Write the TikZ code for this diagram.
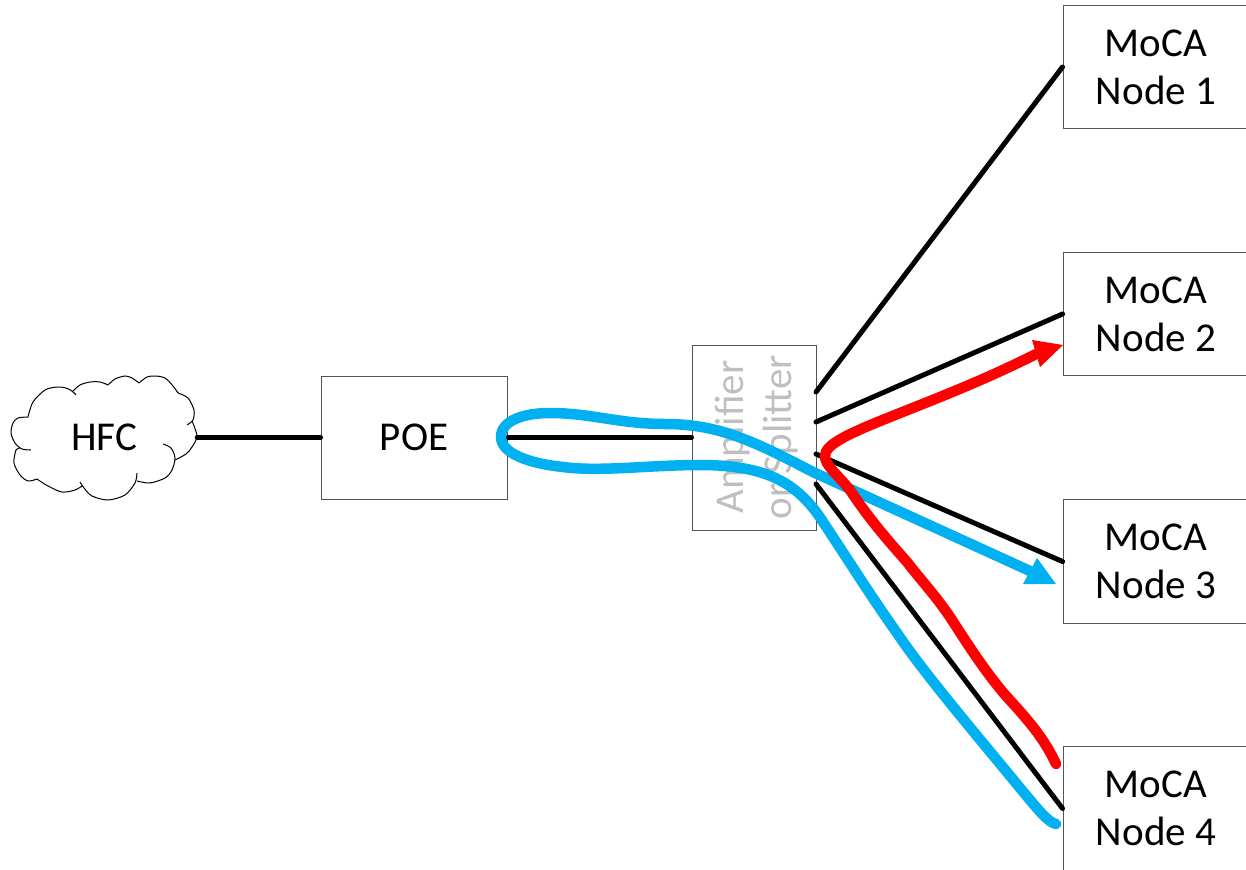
\documentclass[tikz,border=0pt]{standalone}
\usepackage{fontspec}
\setmainfont{Carlito}
\usetikzlibrary{arrows.meta}
\definecolor{flowblue}{HTML}{00B0F0}
\definecolor{flowred}{HTML}{FF0000}
\definecolor{boxedge}{HTML}{555555}
\definecolor{ghost}{HTML}{BFBFBF}
\tikzset{
  box/.style={draw=boxedge,line width=1pt,fill=white,inner sep=0pt,align=center,font=\fontsize{41}{48}\selectfont},
  mocabox/.style={box,minimum width=186pt,minimum height=123.5pt},
  wire/.style={draw=black,line width=5pt,line cap=round},
  flow/.style={line width=10.5pt,line cap=round,line join=round},
  lobe/.style={draw=black,line width=1pt},
}
\begin{document}
\begin{tikzpicture}[x=1pt,y=-1pt]
\useasboundingbox (0,0) rectangle (1246,869);
\clip (0,0) rectangle (1246,869);
% cloud
\fill[white] plot[smooth] coordinates {(28,417)(57,387)(108,384)(155,376)(178,393)(197,437)(175,460)(137,482)(108,500)(80,482)(37,480)(14,453)(11,433)};
\draw[lobe] plot[smooth] coordinates {(28,417)(33,402)(45,390)(57,387)(66,388)(72,391)(76,395)};
\draw[lobe] plot[smooth] coordinates {(72,392)(80,385)(90,382)(100,382)(108,385)};
\draw[lobe] plot[smooth] coordinates {(108,385)(115,379)(125,376)(132,378)(139,383)};
\draw[lobe] plot[smooth] coordinates {(139,383)(147,377)(155,376)(165,378)(173,386)(178,393)};
\draw[lobe] plot[smooth] coordinates {(178,393)(188,398)(194,410)(193,420)(187,425)};
\draw[lobe] plot[smooth] coordinates {(192,421)(197,436)(192,447)(186,454)(175,460)};
\draw[lobe] plot[smooth] coordinates {(163,444)(171,448)(175,458)(172,470)(165,478)(150,483)(137,481)};
\draw[lobe] plot[smooth] coordinates {(137,473)(135,483)(125,495)(108,500)(92,496)(84,488)(80,482)};
\draw[lobe] plot[smooth] coordinates {(82,486)(75,490)(62,492)(48,486)(37,479)};
\draw[lobe] plot[smooth] coordinates {(37,479)(28,481)(20,475)(14,463)(16,450)(20,448)};
\draw[lobe] plot[smooth] coordinates {(31,450)(22,449)(15,443)(11,433)(13,423)(18,418)(28,417)};
\node[inner sep=0pt,minimum width=186pt,minimum height=50pt,font=\fontsize{41}{48}\selectfont] (hfc) at (104,437.5) {HFC};
% boxes
\node[box,minimum width=186pt,minimum height=123pt] (poe) at (414,437.5) {POE};
\node[draw=boxedge,line width=1pt,minimum width=124pt,minimum height=185pt] (amp) at (754,437.5) {};
\node[rotate=90,text=ghost,align=center,inner sep=0pt,font=\fontsize{41}{48}\selectfont] (amplabel) at (757,437) {Amplifier\\or Splitter};
\node[mocabox] (n1) at (1156,67) {MoCA\\Node 1};
\node[mocabox] (n2) at (1156,314) {MoCA\\Node 2};
\node[mocabox] (n3) at (1156,561.5) {MoCA\\Node 3};
\node[mocabox] (n4) at (1156,808.5) {MoCA\\Node 4};
% outlets
\coordinate (o1) at (816,392);
\coordinate (o2) at (816,422);
\coordinate (o3) at (816,454);
\coordinate (o4) at (816,484);
% wires
\draw[wire] (hfc.east) -- (poe.west);
\draw[wire] (poe.east) -- (amp.west);
\draw[wire] (o1) -- (n1.west);
\draw[wire] (o2) -- (n2.west);
\draw[wire] (o3) -- (n3.west);
\draw[wire] (o4) -- (n4.west);
% flows
\draw[flow,draw=flowblue] (1056,824) .. controls (1048,822) and (1040,812) .. (1020,788)
  .. controls (985,745) and (925,675) .. (897,633)
  .. controls (870,595) and (845,555) .. (825,525)
  .. controls (800,485) and (770,465) .. (700,465)
  .. controls (650,465) and (600,472) .. (563,467)
  .. controls (525,463) and (501,452) .. (501,437)
  .. controls (501,420) and (525,413) .. (550,413)
  .. controls (590,413) and (620,424) .. (665,424)
  .. controls (720,424) and (755,442) .. (813,472)
  -- (1030,571);
\fill[flowblue] (1056,584) -- (1023,584) -- (1037,558) -- cycle;
\draw[flow,draw=flowred] (1056,764) .. controls (1045,740) and (1030,722) .. (1007,697)
  .. controls (985,672) and (965,640) .. (950,617)
  .. controls (935,595) and (925,585) .. (907,562)
  .. controls (885,537) and (870,520) .. (850,490)
  .. controls (835,472) and (825,465) .. (825,456)
  .. controls (825,445) and (845,435) .. (890,417)
  .. controls (930,401) and (985,380) .. (1036,354);
\fill[flowred] (1063,345) -- (1032,340) -- (1040,367) -- cycle;
\end{tikzpicture}
\end{document}
